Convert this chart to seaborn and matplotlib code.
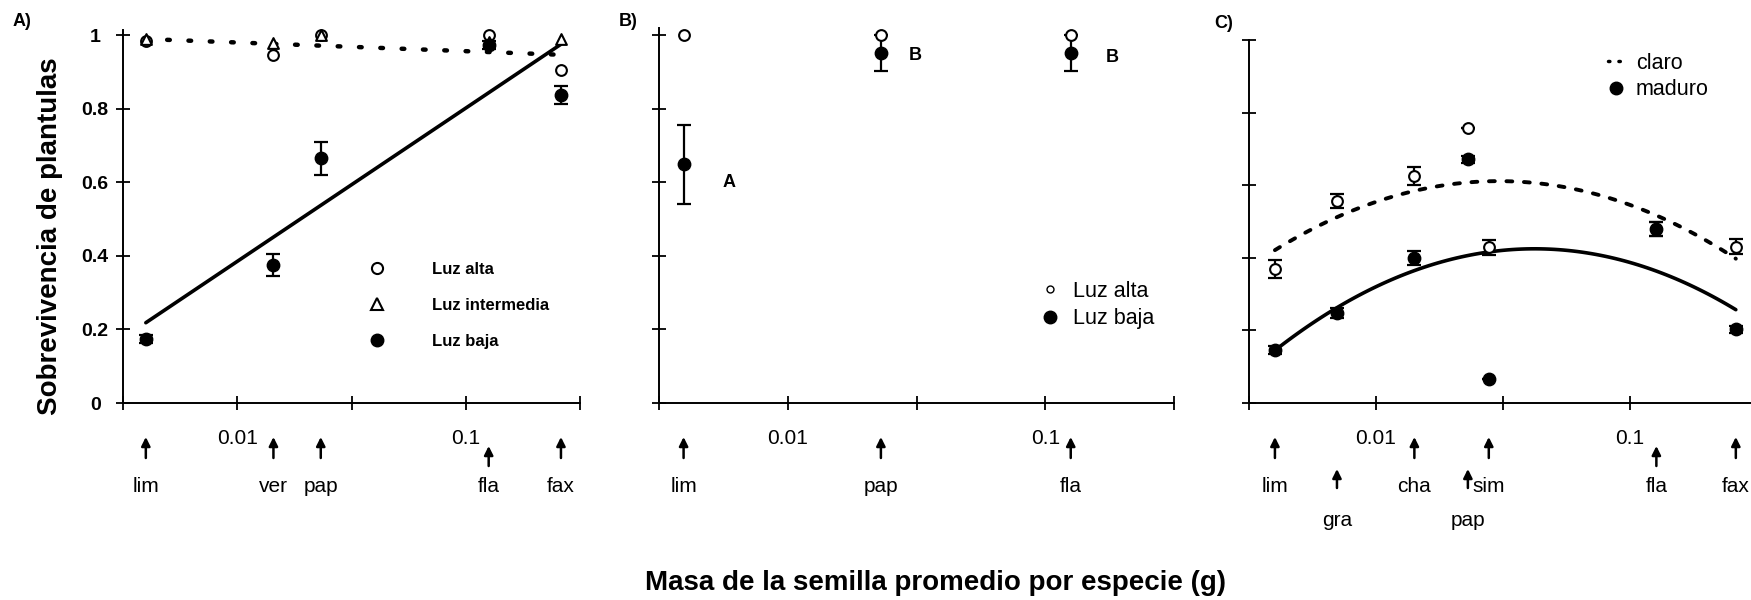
import numpy as np
import pandas as pd
import matplotlib
matplotlib.use("Agg")
import matplotlib.pyplot as plt
import matplotlib.transforms as mtransforms
from matplotlib.lines import Line2D
import seaborn as sns

# ---- data -------------------------------------------------------------
# A) survival under three light levels
species_a = ["lim", "ver", "pap", "fla", "fax"]
mass_a = [0.00398, 0.0144, 0.0232, 0.126, 0.261]          # seed mass (g)
alta_a = [0.985, 0.946, 1.0, 1.0, 0.905]
inter_a = [0.99, 0.978, 1.0, 0.98, 0.99]
baja_a = [0.174, 0.375, 0.665, 0.973, 0.837]
baja_a_err = [0.01, 0.03, 0.045, 0.01, 0.025]

# B) survival under high / low light, with group letters
species_b = ["lim", "pap", "fla"]
mass_b = [0.00394, 0.0230, 0.1256]
alta_b = [1.0, 1.0, 1.0]
baja_b = [0.649, 0.951, 0.951]
baja_b_err = [0.107, 0.048, 0.05]
letters_b = ["A", "B", "B"]

# C) survival in gap ("claro") vs mature forest ("maduro")
species_c = ["lim", "gra", "cha", "pap", "sim", "fla", "fax"]
mass_c = [0.0040, 0.00702, 0.01416, 0.0230, 0.0278, 0.127, 0.261]
claro_c = [0.37, 0.557, 0.625, 0.758, 0.429, 0.48, 0.431]
claro_err = [0.025, 0.02, 0.025, 0.0, 0.02, 0.02, 0.02]
maduro_c = [0.146, 0.248, 0.40, 0.671, 0.067, 0.48, 0.203]
maduro_err = [0.01, 0.015, 0.02, 0.01, 0.0, 0.02, 0.01]

x_ticks = [-2.5, -2.0, -1.5, -1.0, -0.5]
x_ticklabels = ["", "0.01", "", "0.1", ""]
y_ticks = [0, 0.2, 0.4, 0.6, 0.8, 1.0]
y_ticklabels = ["0", "0.2", "0.4", "0.6", "0.8", "1"]

dfA = pd.DataFrame({"especie": species_a, "masa": mass_a, "alta": alta_a,
                    "inter": inter_a, "baja": baja_a, "err": baja_a_err})
dfB = pd.DataFrame({"especie": species_b, "masa": mass_b, "alta": alta_b,
                    "baja": baja_b, "err": baja_b_err})
dfC = pd.DataFrame({"especie": species_c, "masa": mass_c, "claro": claro_c,
                    "claro_err": claro_err, "maduro": maduro_c,
                    "maduro_err": maduro_err})
for df in (dfA, dfB, dfC):
    df["logm"] = np.log10(df["masa"])

# ---- style ------------------------------------------------------------
sns.set_theme(style="ticks")
plt.rcParams["font.family"] = ["Liberation Sans", "DejaVu Sans"]
plt.rcParams.update({
    "axes.edgecolor": "black", "axes.linewidth": 1.4,
    "xtick.color": "black", "ytick.color": "black",
    "xtick.direction": "inout", "ytick.direction": "inout",
    "xtick.major.size": 10, "ytick.major.size": 10,
    "xtick.major.width": 1.3, "ytick.major.width": 1.3,
    "text.color": "black",
})

W, H = 1751, 600
fig = plt.figure(figsize=(W / 100, H / 100), dpi=100)


def px_axes(left, right, top, bottom):
    return fig.add_axes([left / W, 1 - bottom / H, (right - left) / W, (bottom - top) / H])


def fy(py):
    return 1 - py / H


axA = px_axes(123, 580, 30, 403)
axB = px_axes(659, 1174, 28, 403)
axC = px_axes(1249, 1757, 40, 403)
ylims = {axA: 1.0136, axB: 1.019, axC: 0.986}

open_kw = dict(color="white", edgecolor="black", linewidth=1.5, legend=False,
               zorder=4, clip_on=False)
fill_kw = dict(color="black", edgecolor="black", linewidth=1.0, legend=False,
               zorder=5, clip_on=False)
err_kw = dict(fmt="none", ecolor="black", elinewidth=1.6, capsize=5,
              capthick=1.6, zorder=3)

# ---- panel A ------------------------------------------------------------
sns.regplot(data=dfA, x="logm", y="baja", scatter=False, ci=None, truncate=True,
            line_kws=dict(color="black", lw=2.6), ax=axA)
sns.regplot(data=dfA, x="logm", y="alta", scatter=False, ci=None, truncate=True,
            line_kws=dict(color="black", lw=3.2, ls=(0, (0.6, 4.2)),
                          dash_capstyle="round"), ax=axA)
axA.errorbar(dfA["logm"], dfA["baja"], yerr=dfA["err"], **err_kw)
sns.scatterplot(data=dfA, x="logm", y="alta", marker="o", s=60, ax=axA, **open_kw)
sns.scatterplot(data=dfA, x="logm", y="inter", marker="^", s=60, ax=axA, **open_kw)
sns.scatterplot(data=dfA, x="logm", y="baja", marker="o", s=80, ax=axA, **fill_kw)

handlesA = [
    Line2D([], [], ls="none", marker="o", ms=8, mfc="white", mec="black", mew=1.5),
    Line2D([], [], ls="none", marker="^", ms=8, mfc="white", mec="black", mew=1.5),
    Line2D([], [], ls="none", marker="o", ms=9, mfc="black", mec="black"),
]
axA.legend(handlesA, ["Luz alta", "Luz intermedia", "Luz baja"],
           loc="upper left", bbox_to_anchor=(369 / W, fy(262)),
           bbox_transform=fig.transFigure, frameon=False,
           prop=dict(size=12, weight="bold"), handlelength=1.0,
           handletextpad=2.8, labelspacing=1.25, borderpad=0,
           borderaxespad=0)

# ---- panel B ------------------------------------------------------------
axB.errorbar(dfB["logm"], dfB["baja"], yerr=dfB["err"], **err_kw)
sns.scatterplot(data=dfB, x="logm", y="alta", marker="o", s=60, ax=axB, **open_kw)
sns.scatterplot(data=dfB, x="logm", y="baja", marker="o", s=80, ax=axB, **fill_kw)
letter_offsets = [(33, -13), (25, -1.5), (30, -3.5)]
for lm, v, let, off in zip(dfB["logm"], dfB["baja"], letters_b, letter_offsets):
    axB.annotate(let, xy=(lm, v), xytext=off, textcoords="offset points",
                 ha="center", va="center", fontsize=13, fontweight="bold")
handlesB = [
    Line2D([], [], ls="none", marker="o", ms=5, mfc="white", mec="black", mew=1.0),
    Line2D([], [], ls="none", marker="o", ms=9, mfc="black", mec="black"),
]
axB.legend(handlesB, ["Luz alta", "Luz baja"], loc="upper left",
           bbox_to_anchor=(1039 / W, fy(281)), bbox_transform=fig.transFigure,
           frameon=False, prop=dict(size=15.5), handlelength=1.0,
           handletextpad=0.6, labelspacing=0.3, borderpad=0, borderaxespad=0)

# ---- panel C ------------------------------------------------------------
sns.regplot(data=dfC, x="logm", y="maduro", scatter=False, ci=None, order=2,
            truncate=True, line_kws=dict(color="black", lw=2.6), ax=axC)
sns.regplot(data=dfC, x="logm", y="claro", scatter=False, ci=None, order=2,
            truncate=True, line_kws=dict(color="black", lw=2.8, ls=(0, (1.5, 3)),
                                         dash_capstyle="round"), ax=axC)
axC.errorbar(dfC["logm"], dfC["claro"], yerr=dfC["claro_err"], **err_kw)
axC.errorbar(dfC["logm"], dfC["maduro"], yerr=dfC["maduro_err"], **err_kw)
sns.scatterplot(data=dfC, x="logm", y="claro", marker="o", s=60, ax=axC, **open_kw)
sns.scatterplot(data=dfC, x="logm", y="maduro", marker="o", s=80, ax=axC, **fill_kw)
handlesC = [
    Line2D([], [], color="black", lw=2.5, ls=(0, (0.4, 2.6)), dash_capstyle="round"),
    Line2D([], [], ls="none", marker="o", ms=9, mfc="black", mec="black"),
]
axC.legend(handlesC, ["claro", "maduro"], loc="upper left",
           bbox_to_anchor=(1608 / W, fy(53)), bbox_transform=fig.transFigure,
           frameon=False, prop=dict(size=15.5), handlelength=0.75,
           handletextpad=0.55, labelspacing=0.25, borderpad=0, borderaxespad=0)

# ---- axes cosmetics -------------------------------------------------------
for ax in (axA, axB, axC):
    sns.despine(ax=ax)
    ax.set_xlim(-2.5, -0.5)
    ax.set_ylim(0, ylims[ax])
    ax.set_xticks(x_ticks)
    ax.set_xticklabels(x_ticklabels)
    ax.set_yticks(y_ticks)
    ax.set_xlabel("")
    ax.set_ylabel("")
    ax.tick_params(axis="x", pad=13.5, labelsize=15)
    ax.patch.set_alpha(0)

axA.set_yticklabels(y_ticklabels)
axA.tick_params(axis="y", pad=15, labelsize=14)
for lab in axA.get_yticklabels():
    lab.set_ha("center")
    lab.set_fontweight("bold")
axB.set_yticklabels([""] * len(y_ticks))
axC.set_yticklabels([""] * len(y_ticks))

# ---- species arrows under the x axis ---------------------------------------
arrow_rows = {
    axA: (dfA, {"fla": 1}),
    axB: (dfB, {}),
    axC: (dfC, {"fla": 1, "gra": 2, "pap": 2}),
}
arrow_span = {0: (437, 458), 1: (446, 466), 2: (469, 488)}
label_y = {0: 487, 1: 487, 2: 520}
for ax, (df, rows) in arrow_rows.items():
    trans = mtransforms.blended_transform_factory(ax.transData, fig.transFigure)
    for name, lm in zip(df["especie"], df["logm"]):
        r = rows.get(name, 0)
        head, tail = arrow_span[r]
        ax.annotate("", xy=(lm, fy(head)), xycoords=trans,
                    xytext=(lm, fy(tail)), textcoords=trans,
                    arrowprops=dict(arrowstyle="-|>", color="black", lw=1.8,
                                    mutation_scale=13, shrinkA=0, shrinkB=0),
                    annotation_clip=False)
        ax.text(lm, fy(label_y[r]), name, transform=trans, ha="center",
                va="center", fontsize=15, clip_on=False)

# ---- panel letters and shared axis titles ----------------------------------
for txt, (px, py) in zip(["A)", "B)", "C)"], [(22, 22), (628, 22), (1224, 23)]):
    fig.text(px / W, fy(py), txt, ha="center", va="center", fontsize=13,
             fontweight="bold")
fig.text(50 / W, fy(236), "Sobrevivencia de plantulas", rotation=90,
         ha="center", va="center", fontsize=20, fontweight="bold")
fig.text(935 / W, fy(583), "Masa de la semilla promedio por especie (g)",
         ha="center", va="center", fontsize=20, fontweight="bold")

fig.savefig("out.png", dpi=100)
